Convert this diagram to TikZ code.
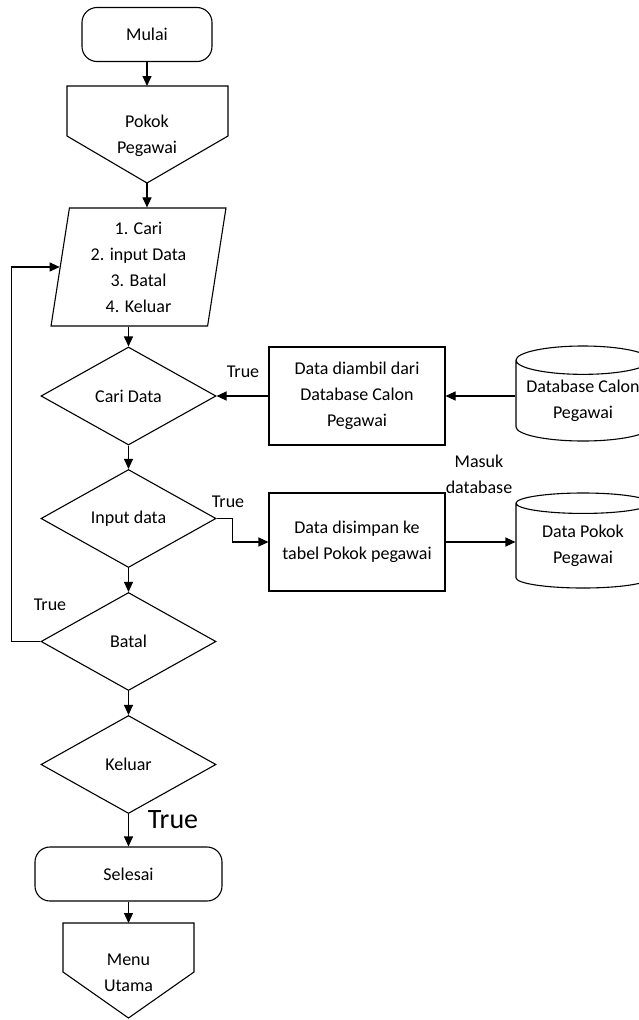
\documentclass[tikz,border=0pt]{standalone}
\usepackage{fontspec}
\setmainfont{Carlito}
\usepackage{tikz}
\usetikzlibrary{arrows.meta}
\usetikzlibrary{calc}
\usetikzlibrary{shapes.geometric}
\usetikzlibrary{positioning}

\begin{document}
\begin{tikzpicture}[
		x=1pt, y=-1pt,
		every node/.style={font=\fontsize{18}{26}\selectfont, align=center, inner sep=0pt},
		line width=1.1pt,
		arr/.style={-{Triangle[length=10pt, width=9pt]}},
		terminal/.style={draw, rounded corners=15pt, minimum height=54pt},
		decision/.style={draw, diamond, aspect=1.8, minimum width=175pt, minimum height=98pt},
		procbox/.style={draw, rectangle, minimum width=176pt, minimum height=98pt},
		inbox/.style={draw, trapezium, trapezium left angle=82, trapezium right angle=98,
				trapezium stretches=true, minimum width=175pt, minimum height=118pt},
		dbase/.style={draw, cylinder, shape border rotate=90, aspect=0.25, anchor=shape center,
				minimum width=134pt, minimum height=95pt},
		lbl/.style={}
	]
	\useasboundingbox (0,0) rectangle (638,1020);
	\node (mulai) [terminal, minimum width=130pt] at (147,34.5) {Mulai};
	% off page connector
	\draw (67,86) -- (228,86) -- (228,136) -- (147,183) -- (67,136) -- cycle;
	\node (pokok) at (147,135.5) {Pokok\\Pegawai};
	\coordinate (pokokTop) at (147,86);
	\coordinate (pokokTip) at (147,183);
	\node (menu) [inbox] at (138.5,267) {1. Cari\\2. input Data\\3. Batal\\4. Keluar};
	\node (cari) [decision] at (128.5,396) {Cari Data};
	\node (input) [decision] at (128.5,518.5) {Input data};
	\node (batal) [decision] at (128.5,641.5) {Batal};
	\node (keluar) [decision] at (128.5,764.5) {Keluar};
	\node (selesai) [terminal, minimum width=187pt] at (128.5,874) {Selesai};
	\draw (63,923) -- (194,923) -- (194,972) -- (128.5,1018) -- (63,972) -- cycle;
	\node (utama) at (128.5,973) {Menu\\Utama};
	\coordinate (utamaTop) at (128.5,923);
	\node (ambil) [procbox] at (357,396) {Data diambil dari\\Database Calon\\Pegawai};
	\node (simpan) [procbox] at (357,542) {Data disimpan ke\\tabel Pokok pegawai};
	\node (dbcalon) [dbase] at (583,393.5) {Database Calon\\Pegawai};
	\node (dbpokok) [dbase] at (583,540.5) {Data Pokok\\Pegawai};
	\node (tcari) [lbl] at (243,372) {True};
	\node (tinput) [lbl] at (228,502) {True};
	\node (tbatal) [lbl] at (50,605) {True};
	\node (tkeluar) [font=\fontsize{28}{30}\selectfont] at (173,820) {True};
	\node (masuk) at (479,474) {Masuk\\database};

	\draw[arr] (mulai) -- (pokokTop);
	\draw[arr] (pokokTip) -- (pokokTip |- menu.north);
	\draw[arr] (cari.north |- menu.south) -- (cari.north);
	\foreach \a/\b in {cari/input, input/batal, batal/keluar, keluar/selesai}
		\draw[arr] (\a.south) -- (\b.north);
	\draw[arr] (selesai) -- (utamaTop);
	% loop back
	\draw[arr] (batal.west) -- ++(-29,0) |- (menu.west);
	\draw[arr] (ambil) -- (cari.east);
	\draw[arr] (dbcalon.west |- ambil.east) -- (ambil.east);
	\draw[arr] (input.east) -- ++(16,0) |- (simpan.west);
	\draw[arr] (simpan.east) -- (simpan.east -| dbpokok.west);
\end{tikzpicture}
\end{document}
